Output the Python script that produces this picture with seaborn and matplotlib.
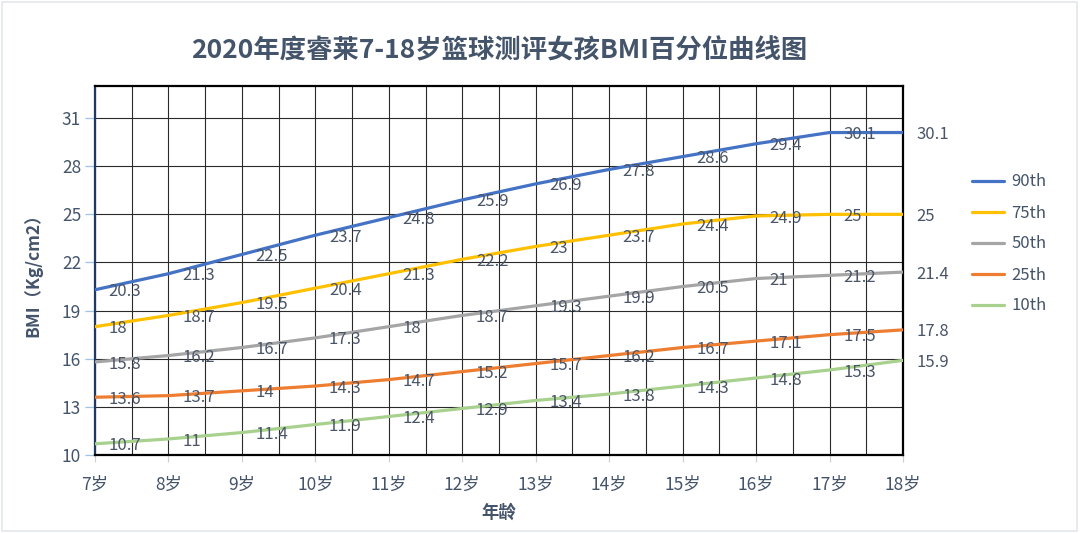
import matplotlib
matplotlib.use("Agg")
import matplotlib.pyplot as plt
import seaborn as sns
import pandas as pd
import numpy as np

ages = [7, 8, 9, 10, 11, 12, 13, 14, 15, 16, 17, 18]
age_labels = [f"{a}岁" for a in ages]
p90 = [20.3, 21.3, 22.5, 23.7, 24.8, 25.9, 26.9, 27.8, 28.6, 29.4, 30.1, 30.1]
p75 = [18, 18.7, 19.5, 20.4, 21.3, 22.2, 23, 23.7, 24.4, 24.9, 25, 25]
p50 = [15.8, 16.2, 16.7, 17.3, 18, 18.7, 19.3, 19.9, 20.5, 21, 21.2, 21.4]
p25 = [13.6, 13.7, 14, 14.3, 14.7, 15.2, 15.7, 16.2, 16.7, 17.1, 17.5, 17.8]
p10 = [10.7, 11, 11.4, 11.9, 12.4, 12.9, 13.4, 13.8, 14.3, 14.8, 15.3, 15.9]
series_names = ["90th", "75th", "50th", "25th", "10th"]
series_vals = [p90, p75, p50, p25, p10]
colors = ["#4472C4", "#FFC000", "#A5A5A5", "#ED7D31", "#A9D18E"]
y_ticks = [10, 13, 16, 19, 22, 25, 28, 31]

title = "2020年度睿莱7-18岁篮球测评女孩BMI百分位曲线图"
ylabel = "BMI（Kg/cm2）"
xlabel = "年龄"

rows = []
for name, vals in zip(series_names, series_vals):
    for a, v in zip(ages, vals):
        rows.append({"age": a, "bmi": v, "pct": name})
df = pd.DataFrame(rows)

sns.set_theme(style="white")
plt.rcParams['font.family'] = ['Noto Sans CJK SC', 'DejaVu Sans']
txt = "#44546A"

fig = plt.figure(figsize=(10.8, 5.33), dpi=100)
ax = fig.add_axes([95/1080, 1-455/533, (903-95)/1080, (455-86)/533])

sns.lineplot(data=df, x="age", y="bmi", hue="pct", hue_order=series_names,
             palette=colors, linewidth=2.3, ax=ax, legend=True, zorder=3)

for name, vals, c in zip(series_names, series_vals, colors):
    for a, v in zip(ages, vals):
        ax.annotate(f"{v:g}", (a, v), xytext=(9.8, -1.5), textcoords="offset points",
                    ha="left", va="center", fontsize=12, color="#4a5568",
                    annotation_clip=False, zorder=4)

ax.set_xlim(7, 18)
ax.set_ylim(10, 33)
ax.set_xticks(ages)
ax.set_xticklabels(age_labels)
ax.set_xticks(np.arange(7.5, 18, 1.0), minor=True)
ax.set_yticks(y_ticks)
ax.grid(True, which="major", axis="both", color="#2a2a2a", linewidth=0.8, zorder=1)
ax.grid(True, which="minor", axis="x", color="#2a2a2a", linewidth=0.8, zorder=1)
ax.tick_params(axis="y", which="major", length=7, width=0.9, color="#9DC3E6",
               labelsize=12.5, labelcolor=txt, pad=3, left=True)
ax.tick_params(axis="x", which="major", length=5, width=0.9, color="#D0D0D0",
               labelsize=12.5, labelcolor=txt, pad=10, bottom=True)
ax.tick_params(axis="x", which="minor", length=0)

for s in ["top", "right", "bottom"]:
    ax.spines[s].set_color("black")
    ax.spines[s].set_linewidth(1.6)
ax.spines["left"].set_color("#1F3864")
ax.spines["left"].set_linewidth(1.6)

ax.set_xlabel(xlabel, fontsize=12.5, fontweight="bold", color=txt, labelpad=7)
ax.set_ylabel(ylabel, fontsize=12.5, fontweight="bold", color=txt, labelpad=14)
ax.set_title(title, fontsize=19, fontweight="bold", color=txt, pad=20)

handles, labels = ax.get_legend_handles_labels()
leg = ax.legend(handles, labels, loc="center left", bbox_to_anchor=(972/1080, 1-244/533),
                bbox_transform=fig.transFigure, frameon=False, fontsize=12,
                handlelength=1.9, handletextpad=0.45, labelspacing=0.84,
                borderpad=0, borderaxespad=0, labelcolor=txt)
for h in leg.get_lines():
    h.set_linewidth(2.3)

fig.patches.append(matplotlib.patches.Rectangle((0.002, 0.004), 0.995, 0.993,
                   transform=fig.transFigure, fill=False, edgecolor="#E3E8EE",
                   linewidth=1.2))

fig.savefig("out.png", dpi=100)
